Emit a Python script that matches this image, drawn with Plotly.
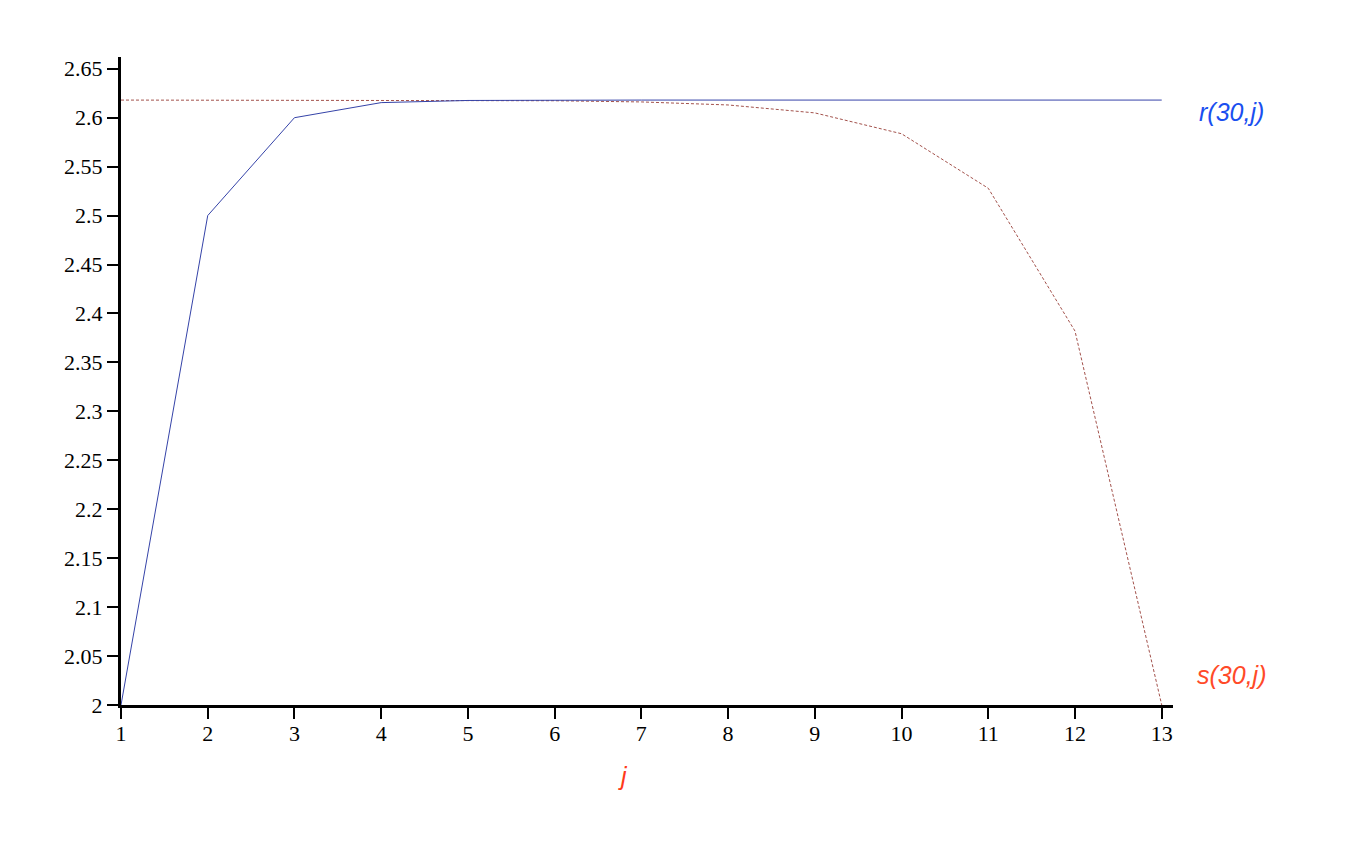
import plotly.graph_objects as go

# j index, and the two sequences
j_vals = [1, 2, 3, 4, 5, 6, 7, 8, 9, 10, 11, 12, 13]
r_vals = [2.0, 2.5, 2.6, 2.6154, 2.6176, 2.6180, 2.6180, 2.6180, 2.6180, 2.6180, 2.6180, 2.6180, 2.6180]
s_vals = [2.6180, 2.6180, 2.6180, 2.6179, 2.6178, 2.6173, 2.6161, 2.6130, 2.6049, 2.5836, 2.5279, 2.3820, 2.0]

y_ticks = [2, 2.05, 2.1, 2.15, 2.2, 2.25, 2.3, 2.35, 2.4, 2.45, 2.5, 2.55, 2.6, 2.65]
y_labels = ["2", "2.05", "2.1", "2.15", "2.2", "2.25", "2.3", "2.35", "2.4", "2.45", "2.5", "2.55", "2.6", "2.65"]

fig = go.Figure()
fig.add_trace(go.Scatter(
    x=j_vals, y=s_vals, mode="lines",
    line=dict(color="#a3524c", width=1, dash="3px,2px"),
    cliponaxis=False, showlegend=False,
))
fig.add_trace(go.Scatter(
    x=j_vals, y=r_vals, mode="lines",
    line=dict(color="#3543a8", width=1),
    cliponaxis=False, showlegend=False,
))

# curve labels sit to the right of the plot, so place them in paper units
label_font = dict(family="Liberation Sans, Arial, sans-serif", size=25, style="italic")
for x, y, text, color in [
    (1.056, 0.915, "r(30,j)", "#1a4ff0"),
    (1.056, 0.046, "s(30,j)", "#ff4a28"),
    (0.477, -0.11, "j", "#ff3a1a"),
]:
    fig.add_annotation(x=x, y=y, xref="paper", yref="paper", text=text, showarrow=False,
                       xanchor="center", yanchor="middle",
                       font=dict(label_font, color=color))

axis_common = dict(
    showgrid=False, zeroline=False, showline=True, linecolor="black", linewidth=3,
    ticks="outside", ticklen=11, tickwidth=2, tickcolor="black",
    tickfont=dict(family="Liberation Serif, Times New Roman, serif", size=22, color="black"),
)
fig.update_xaxes(range=[1, 13.13], tickvals=j_vals, ticktext=[str(v) for v in j_vals],
                 ticklabelstandoff=-4, **axis_common)
fig.update_yaxes(range=[2, 2.662], tickvals=y_ticks, ticktext=y_labels, **axis_common)

fig.update_layout(
    width=1354, height=856,
    margin=dict(l=113, r=189, t=49, b=159),
    plot_bgcolor="white", paper_bgcolor="white",
)

fig.write_html("out.html")
